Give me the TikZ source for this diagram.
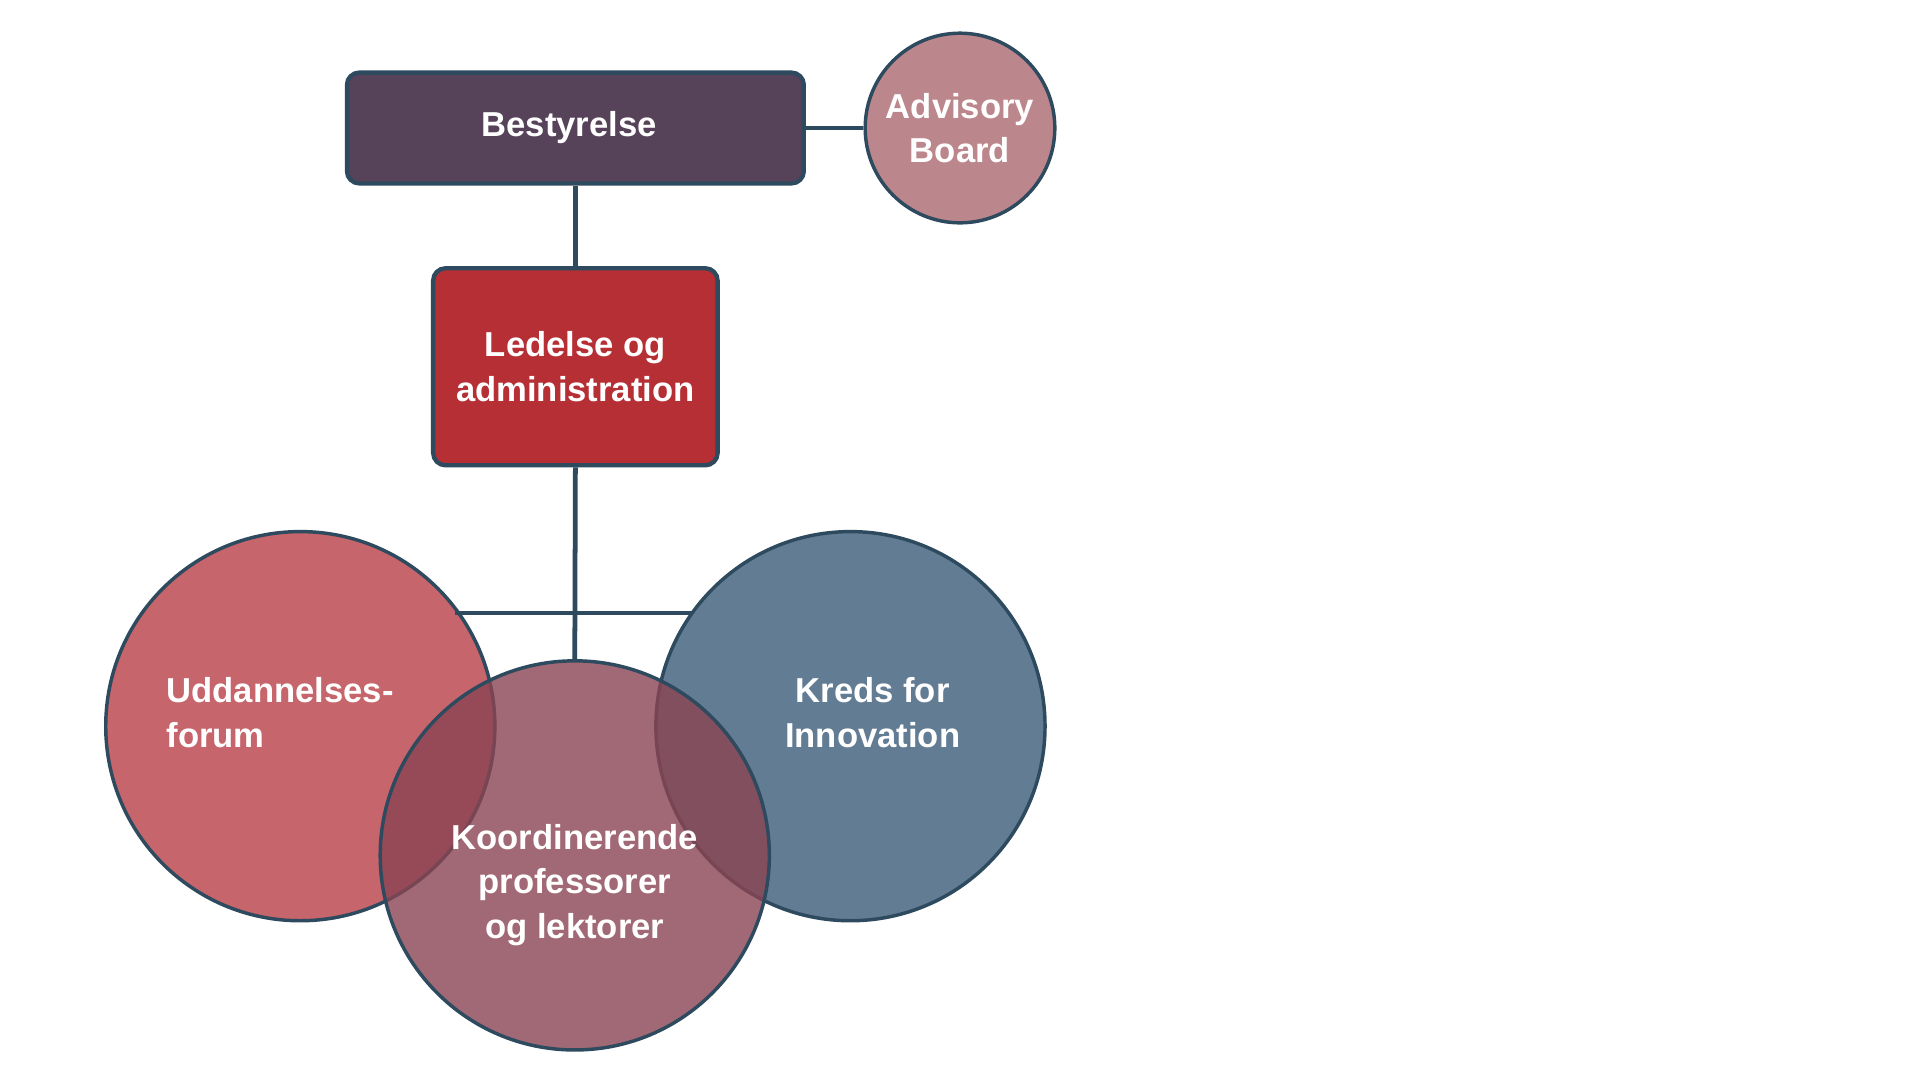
\documentclass[tikz,border=0pt]{standalone}
\usepackage{fontspec}
\setmainfont{Liberation Sans}
\definecolor{ln}{HTML}{2E4A5E}
\definecolor{cbest}{HTML}{564259}
\definecolor{cadv}{HTML}{BC878C}
\definecolor{cled}{HTML}{B52F35}
\definecolor{cudd}{HTML}{C6656B}
\definecolor{ckre}{HTML}{627C94}
\definecolor{ckoo}{HTML}{8A4452}
\begin{document}
\begin{tikzpicture}[x=0.01cm,y=-0.01cm,
  txt/.style={text=white,font=\fontsize{8}{10.3}\selectfont\bfseries,align=center},
  box/.style={draw=ln,line width=1pt,rounded corners=0.1cm,inner sep=0pt,txt},
  circ/.style={circle,draw=ln,line width=0.8pt,inner sep=0pt,txt},
  conn/.style={draw=ln,line width=1.1pt}]
\useasboundingbox (0,0) rectangle (1560,878);
\node[box,fill=cbest,minimum width=3.71cm,minimum height=0.9cm] (best) at (467.5,104) {\hspace*{-0.1cm}Bestyrelse};
\node[box,fill=cled,minimum width=2.31cm,minimum height=1.6cm] (led) at (467.5,298) {Ledelse og\\administration};
\node[circ,fill=cadv,minimum size=1.54cm] (adv) at (780,104) {Advisory\\Board};
\draw[conn] (best.east) -- (adv.west);
\draw[conn] (best.south) -- (led.north);
\coordinate (hl) at (370,498);
\coordinate (hr) at (563,498);
\node[circ,fill=cudd,minimum size=3.16cm] (udd) at (244,590) {};
\node[circ,fill=ckre,minimum size=3.16cm] (kre) at (691,590) {};
\draw[conn] (hl) -- (hr);
\draw[conn] (led.south) -- (467,537);
\node[circ,fill=ckoo,fill opacity=0.8,text opacity=1,minimum size=3.16cm] (koo) at (467,695) {};
\coordinate (kt) at (467,537);
\node[txt,align=left,anchor=west] (tu) at (123,579) {Uddannelses-\\forum};
\node[txt] (tk) at (709,579) {Kreds for\\Innovation};
\node[txt] (tko) at (467,719) {Koordinerende\\professorer\\og lektorer};
\end{tikzpicture}
\end{document}
